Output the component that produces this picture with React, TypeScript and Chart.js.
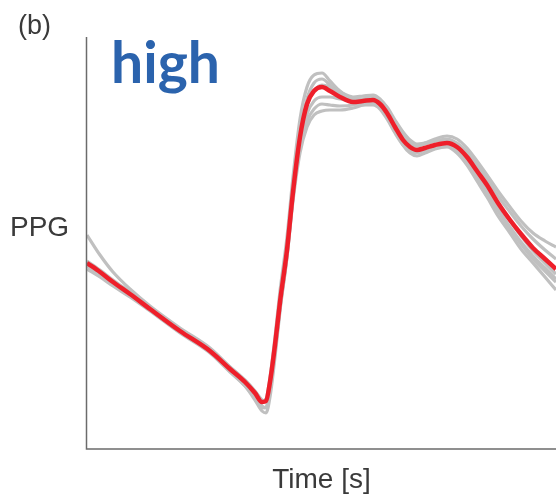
import React, { useEffect, useRef } from "react";
import { Chart, registerables } from "chart.js";

Chart.register(...registerables);

// Time samples (arbitrary units across the window)
const time = [0, 13, 26, 43, 63, 93, 123, 143, 158, 168, 175, 179, 183, 188, 193, 200, 206, 213, 220, 227, 235, 243, 253, 266, 276, 286, 293, 300, 308, 316, 323, 330, 338, 348, 360, 370, 380, 390, 400, 411, 423, 434, 446, 458, 469];

// Mean PPG pulse (red)
const meanPPG = [186, 177, 167, 155, 140, 118, 98, 80, 67, 56, 47, 48, 67, 104, 147, 199, 257, 312, 345, 358, 362, 358, 352, 347, 348, 349, 345, 336, 322, 309, 302, 299, 301, 304, 306, 302, 292, 278, 264, 246, 229, 215, 201, 190, 180];

// Individual pulses (gray)
const pulse1 = [214, 194, 177, 160, 143, 121, 101, 82, 68, 57, 48, 50, 72, 112, 158, 212, 272, 330, 362, 374, 376, 368, 358, 350, 350, 351, 348, 340, 327, 314, 306, 303, 305, 308, 310, 306, 297, 284, 270, 253, 237, 223, 210, 199, 190];
const pulse2 = [180, 172, 163, 152, 138, 116, 96, 77, 63, 51, 41, 42, 60, 98, 142, 195, 254, 312, 350, 366, 370, 364, 355, 346, 344, 344, 340, 330, 316, 304, 298, 296, 299, 303, 305, 300, 289, 274, 259, 240, 222, 207, 193, 181, 170];
const pulse3 = [183, 174, 164, 153, 139, 118, 98, 78, 63, 49, 38, 36, 52, 92, 138, 192, 252, 308, 343, 358, 364, 362, 357, 352, 353, 354, 350, 341, 326, 312, 305, 303, 306, 310, 313, 310, 301, 288, 274, 258, 242, 228, 216, 208, 202];
const pulse4 = [184, 175, 166, 154, 141, 120, 100, 82, 69, 58, 49, 47, 62, 100, 144, 196, 252, 305, 335, 348, 352, 352, 350, 348, 350, 352, 349, 342, 329, 317, 309, 305, 306, 308, 309, 304, 294, 279, 264, 246, 228, 213, 198, 186, 175];
const pulse5 = [188, 179, 169, 157, 142, 120, 100, 81, 68, 57, 48, 49, 66, 103, 146, 197, 254, 302, 328, 340, 345, 344, 343, 344, 347, 349, 346, 338, 324, 311, 303, 299, 301, 303, 304, 298, 287, 272, 256, 238, 220, 205, 190, 178, 167];
const pulse6 = [185, 176, 166, 154, 139, 117, 97, 78, 64, 52, 43, 41, 58, 96, 140, 192, 248, 296, 322, 334, 338, 339, 339, 341, 344, 346, 344, 336, 319, 304, 296, 293, 296, 300, 302, 296, 284, 268, 252, 233, 216, 200, 186, 172, 159];

const grayPulses = [pulse1, pulse2, pulse3, pulse4, pulse5, pulse6];

const panelLabel = "(b)";
const condition = "high";
const yLabel = "PPG";
const xLabel = "Time [s]";

const toPoints = (vals: number[]) => vals.map((v, i) => ({ x: time[i], y: v }));

const decorPlugin = {
  id: "decor",
  afterDraw(chart: any) {
    const { ctx, chartArea } = chart;
    ctx.save();
    // axes
    ctx.strokeStyle = "#6b6b6b";
    ctx.lineWidth = 1.5;
    ctx.beginPath();
    ctx.moveTo(chartArea.left - 0.5, chartArea.top);
    ctx.lineTo(chartArea.left - 0.5, chartArea.bottom);
    ctx.lineTo(chartArea.right, chartArea.bottom);
    ctx.stroke();
    // texts
    ctx.fillStyle = "#3a3a3a";
    ctx.textBaseline = "alphabetic";
    ctx.textAlign = "left";
    ctx.font = "27px 'Liberation Sans', Arial, sans-serif";
    ctx.fillText(panelLabel, 18, 34);
    ctx.font = "28px 'Liberation Sans', Arial, sans-serif";
    ctx.fillText(yLabel, 10, 236);
    ctx.textAlign = "center";
    ctx.fillText(xLabel, (chartArea.left + chartArea.right) / 2, 488);
    ctx.textAlign = "left";
    ctx.fillStyle = "#2b63ad";
    ctx.font = "bold 57px Lato, 'Open Sans', sans-serif";
    ctx.fillText(condition, 111, 83);
    ctx.restore();
  },
};

export default function App() {
  const ref = useRef<HTMLCanvasElement>(null);
  useEffect(() => {
    if (!ref.current) return;
    const datasets: any[] = [
      {
        data: toPoints(meanPPG),
        borderColor: "#ee1f2a",
        borderWidth: 4.5,
        pointRadius: 0,
        cubicInterpolationMode: "monotone",
        order: 0,
      },
      ...grayPulses.map((p, i) => ({
        data: toPoints(p),
        borderColor: "#c0c0c0",
        borderWidth: 3.2,
        pointRadius: 0,
        cubicInterpolationMode: "monotone",
        order: i + 1,
      })),
    ];
    const chart = new Chart(ref.current, {
      type: "line",
      data: { datasets },
      options: {
        responsive: false,
        animation: false,
        layout: { padding: { left: 87, right: 0, top: 37, bottom: 47 } },
        plugins: { legend: { display: false }, tooltip: { enabled: false } },
        scales: {
          x: { type: "linear", min: 0, max: 469, display: false },
          y: { min: 0, max: 412, display: false },
        },
      },
      plugins: [decorPlugin],
    });
    return () => chart.destroy();
  }, []);
  return (
    <div style={{ position: "absolute", left: 0, top: 0, width: 556, height: 496, background: "#fff" }}>
      <canvas ref={ref} width={556} height={496} />
    </div>
  );
}
